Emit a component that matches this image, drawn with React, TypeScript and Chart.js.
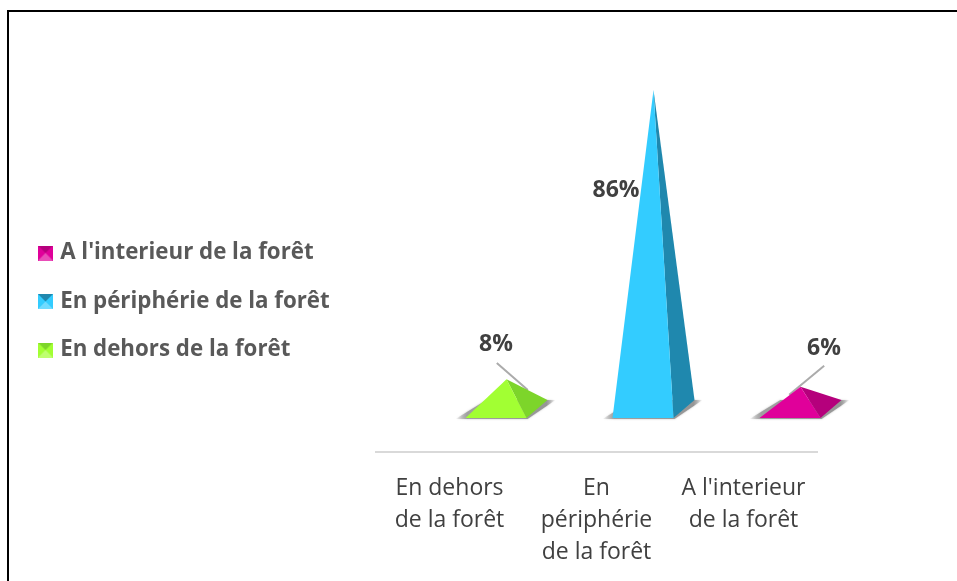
import React, { useEffect, useRef } from "react";
import { Chart, BarController, BarElement, registerables } from "chart.js";

Chart.register(...registerables);

// ---- data ----
const categories = [
  ["En dehors", "de la forêt"],
  ["En", "périphérie", "de la forêt"],
  ["A l'interieur", "de la forêt"],
];
const seriesNames = ["En dehors de la forêt", "En périphérie de la forêt", "A l'interieur de la forêt"];
const values = [8, 86, 6];
const valueLabels = ["8%", "86%", "6%"];
const frontColors = ["#A2FF33", "#33CCFF", "#E0009A"];
const sideColors = ["#7DD52A", "#1F88AE", "#B5007C"];

// ---- pyramid geometry (pixels) ----
const HALF_FRONT = 30.5;
const DEPTH_X = 21;
const DEPTH_Y = 18;
const FLOOR_SHIFT = 57;

class PyramidElement extends BarElement {
  static id = "pyramid";
  draw(ctx: CanvasRenderingContext2D) {
    const { x, y, base } = (this as any).getProps(["x", "y", "base"], true);
    const opts = (this as any).options;
    const cx = x + FLOOR_SHIFT;
    const frontY = base + DEPTH_Y / 2;
    const backY = base - DEPTH_Y / 2;
    const fl = cx - DEPTH_X / 2 - HALF_FRONT;
    const fr = cx - DEPTH_X / 2 + HALF_FRONT;
    ctx.save();
    // soft shadow on the floor, fading out towards both ends
    ctx.save();
    const left = fl - 10;
    const right = fr + DEPTH_X + 8;
    const grad = ctx.createLinearGradient(left, 0, right, 0);
    grad.addColorStop(0, "rgba(160,160,160,0)");
    grad.addColorStop(12 / (right - left), "rgba(160,160,160,1)");
    grad.addColorStop(1 - 9 / (right - left), "rgba(150,150,150,1)");
    grad.addColorStop(1, "rgba(160,160,160,0)");
    ctx.shadowColor = "rgba(120,120,120,0.5)";
    ctx.shadowBlur = 2;
    ctx.fillStyle = grad;
    ctx.beginPath();
    ctx.moveTo(left, frontY + 1);
    ctx.lineTo(fr + 1, frontY + 1);
    ctx.lineTo(right, backY);
    ctx.lineTo(fl + DEPTH_X, backY);
    ctx.closePath();
    ctx.fill();
    ctx.restore();
    // right face
    ctx.fillStyle = opts.borderColor;
    ctx.beginPath();
    ctx.moveTo(fr, frontY);
    ctx.lineTo(fr + DEPTH_X, backY);
    ctx.lineTo(cx, y);
    ctx.closePath();
    ctx.fill();
    // front face
    ctx.fillStyle = opts.backgroundColor;
    ctx.beginPath();
    ctx.moveTo(fl, frontY);
    ctx.lineTo(fr, frontY);
    ctx.lineTo(cx, y);
    ctx.closePath();
    ctx.fill();
    ctx.restore();
  }
}

class PyramidController extends BarController {
  static id = "pyramid";
  static defaults = { ...(BarController as any).defaults, dataElementType: "pyramid" };
  static overrides = (BarController as any).overrides;
}

Chart.register(PyramidElement as any, PyramidController as any);

function legendIcon(front: string, side: string) {
  const c = document.createElement("canvas");
  c.width = 15;
  c.height = 15;
  const g = c.getContext("2d")!;
  const tri = (fill: string, x1: number, y1: number, x2: number, y2: number) => {
    g.fillStyle = fill;
    g.beginPath();
    g.moveTo(x1, y1);
    g.lineTo(x2, y2);
    g.lineTo(7.5, 7.5);
    g.closePath();
    g.fill();
  };
  g.fillStyle = front;
  g.fillRect(0, 0, 15, 15);
  tri(side, 0, 0, 15, 0);
  tri("rgba(255,255,255,0.3)", 0, 15, 15, 15);
  return c;
}

// label offset from each pyramid's apex, with optional leader line ends
const labelOffsets = [
  { dx: -10.5, dy: -35, line: [-9.7, -16.3, 21.3, 10.7] },
  { dx: -37.5, dy: 101, line: null },
  { dx: 23.5, dy: -38, line: [23.7, -21, -11.3, 8] },
];

const valueLabelPlugin = {
  id: "valueLabels",
  beforeLayout(chart: any) {
    // reserve the full gap between the legend's left edge and the plot
    const legend = chart.legend;
    if (legend && !legend.__wrapped) {
      const fit = legend.fit;
      legend.fit = function () {
        fit.call(this);
        this.width = 360.2;
      };
      legend.__wrapped = true;
    }
  },
  beforeDatasetsDraw(chart: any) {
    const { ctx } = chart;
    const meta = chart.getDatasetMeta(0);
    ctx.save();
    ctx.strokeStyle = "#ABABAB";
    ctx.lineWidth = 2;
    meta.data.forEach((el: any, i: number) => {
      const o = labelOffsets[i];
      if (!o.line) return;
      const ax = el.x + FLOOR_SHIFT;
      ctx.beginPath();
      ctx.moveTo(ax + o.line[0], el.y + o.line[1]);
      ctx.lineTo(ax + o.line[2], el.y + o.line[3]);
      ctx.stroke();
    });
    ctx.restore();
  },
  afterDatasetsDraw(chart: any) {
    const { ctx } = chart;
    const meta = chart.getDatasetMeta(0);
    ctx.save();
    ctx.font = 'bold 23px "Open Sans"';
    ctx.fillStyle = "#404040";
    ctx.textAlign = "center";
    ctx.textBaseline = "middle";
    meta.data.forEach((el: any, i: number) => {
      const o = labelOffsets[i];
      ctx.fillText(valueLabels[i], el.x + FLOOR_SHIFT + o.dx, el.y + o.dy);
    });
    ctx.restore();
  },
};

export default function App() {
  const ref = useRef<HTMLCanvasElement>(null);
  useEffect(() => {
    const icons = frontColors.map((c, i) => legendIcon(c, sideColors[i]));
    const chart = new Chart(ref.current!, {
      type: "pyramid" as any,
      data: {
        labels: categories as any,
        datasets: [
          {
            data: values,
            backgroundColor: frontColors,
            borderColor: sideColors,
            clip: false,
          } as any,
        ],
      },
      plugins: [valueLabelPlugin as any],
      options: {
        responsive: false,
        animation: false,
        layout: { padding: { top: 22, bottom: 0, left: 15.8, right: 140 } },
        plugins: {
          tooltip: { enabled: false },
          legend: {
            position: "left",
            align: "center",
            onClick: () => {},
            labels: {
              usePointStyle: true,
              font: { family: '"Open Sans"', size: 22.3, weight: "bold" },
              color: "#595959",
              padding: 26.2,
              boxWidth: 7,
              boxHeight: 15,
              generateLabels: () =>
                seriesNames
                  .map((name, i) => ({
                    text: name,
                    pointStyle: icons[i],
                    fillStyle: frontColors[i],
                    strokeStyle: frontColors[i],
                    lineWidth: 0,
                    hidden: false,
                    index: i,
                    fontColor: "#595959",
                  }))
                  .reverse() as any,
            },
          },
        },
        scales: {
          x: {
            grid: { display: false, drawTicks: false },
            border: { color: "#D9D9D9", width: 2 },
            ticks: {
              color: "#404040",
              font: { family: '"Open Sans"', size: 23, lineHeight: 32 / 23 },
              padding: 20,
              maxRotation: 0,
              autoSkip: false,
            },
            afterFit: (scale: any) => {
              scale.height = 129;
            },
          },
          y: {
            display: false,
            min: -11.6,
            max: 104.3,
          },
        },
      },
    });
    return () => chart.destroy();
  }, []);

  return (
    <div style={{ position: "fixed", left: 0, top: 0, width: 957, height: 581, background: "#fff", overflow: "hidden" }}>
      <canvas ref={ref} width={957} height={581} style={{ display: "block" }} />
      <div
        style={{
          position: "absolute",
          left: 7,
          top: 10,
          right: -5,
          bottom: -5,
          borderLeft: "2.5px solid #000",
          borderTop: "2.5px solid #000",
          pointerEvents: "none",
        }}
      />
    </div>
  );
}
